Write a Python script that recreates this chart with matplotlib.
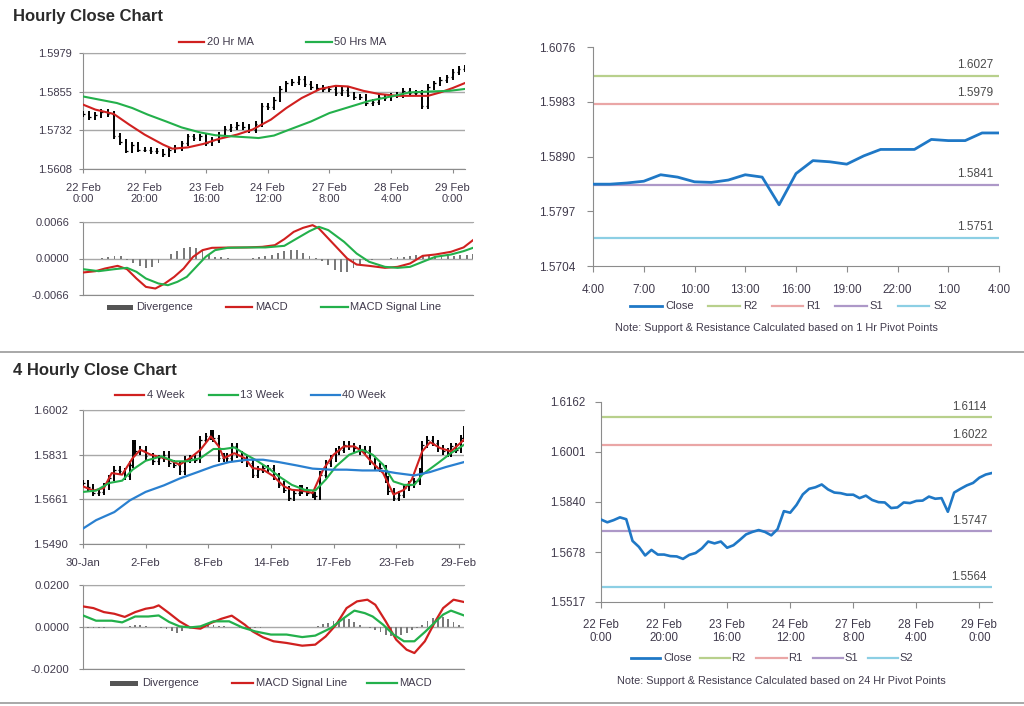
import numpy as np
import matplotlib
matplotlib.use("Agg")
import matplotlib.pyplot as plt
from matplotlib.lines import Line2D
from matplotlib.patches import Rectangle

plt.rcParams['font.family'] = ['Liberation Sans', 'DejaVu Sans']

W, H = 1024, 706

# ---------------- DATA ----------------
# Hourly closes (every 2 hours), 22 Feb 0:00 -> 29 Feb ~4:00 (trading hours)
hourly_close = [1.5783, 1.5774, 1.5781, 1.5790, 1.5784, 1.5714, 1.5695, 1.5667, 1.5685, 1.5670,
                1.5670, 1.5665, 1.5664, 1.5656, 1.5669, 1.5675, 1.5690, 1.5712, 1.5706, 1.5712,
                1.5692, 1.5700, 1.5717, 1.5735, 1.5743, 1.5749, 1.5743, 1.5732, 1.5752, 1.5810,
                1.5805, 1.5830, 1.5864, 1.5882, 1.5887, 1.5896, 1.5880, 1.5870, 1.5868, 1.5863,
                1.5863, 1.5852, 1.5860, 1.5846, 1.5839, 1.5838, 1.5820, 1.5822, 1.5838, 1.5836,
                1.5843, 1.5844, 1.5857, 1.5850, 1.5852, 1.5808, 1.5870, 1.5882, 1.5893, 1.5901,
                1.5918, 1.5928, 1.5933]
hourly_hours = list(range(0, 2 * len(hourly_close), 2))
hourly_tick_labels = ["22 Feb\n0:00", "22 Feb\n20:00", "23 Feb\n16:00", "24 Feb\n12:00",
                      "27 Feb\n8:00", "28 Feb\n4:00", "29 Feb\n0:00"]
hourly_tick_hours = [0, 20, 40, 60, 80, 100, 120]

ma20_hours = [0, 4, 10, 15, 20, 26, 29, 34, 39, 44, 50, 55, 61, 66, 71, 77, 82, 86, 91, 96, 102, 107, 112, 116, 120, 124]
ma20_vals = [1.5814, 1.5798, 1.5784, 1.5750, 1.5718, 1.5686, 1.5673, 1.5677, 1.5688, 1.5704, 1.5718,
             1.5734, 1.5766, 1.5803, 1.5835, 1.5864, 1.5874, 1.5872, 1.5858, 1.5848, 1.5842, 1.5842,
             1.5842, 1.5853, 1.5867, 1.5883]
ma50_hours = [0, 11, 16, 21, 27, 32, 38, 43, 49, 54, 57, 62, 67, 74, 80, 87, 93, 100, 106, 113, 119, 124]
ma50_vals = [1.5840, 1.5819, 1.5803, 1.5782, 1.5760, 1.5741, 1.5725, 1.5716, 1.5712, 1.5709, 1.5707,
             1.5715, 1.5734, 1.5760, 1.5787, 1.5808, 1.5826, 1.5840, 1.5853, 1.5856, 1.5858, 1.5864]

# Hourly MACD panel
macd1_hours = [0, 4, 7, 11, 14, 17, 20, 23, 26, 29, 32, 35, 38, 41, 47, 52, 57, 61, 64, 67, 70, 73,
               75, 78, 81, 84, 87, 91, 96, 100, 104, 108, 112, 117, 121, 124]
macd1_vals = [-0.00253, -0.00229, -0.00181, -0.00133, -0.00193, -0.00362, -0.00513, -0.00543, -0.00452,
              -0.00332, -0.00181, 0.00030, 0.00151, 0.00193, 0.00199, 0.00200, 0.00211, 0.00241, 0.00350,
              0.00482, 0.00555, 0.00603, 0.00543, 0.00362, 0.00181, 0.00000, -0.00109, -0.00133, -0.00169,
              -0.00151, -0.00090, 0.00048, 0.00072, 0.00121, 0.00200, 0.00332]
sig1_hours = [0, 5, 10, 14, 17, 20, 24, 27, 30, 33, 36, 39, 42, 46, 52, 58, 64, 68, 72, 75, 78, 83,
              87, 91, 96, 100, 104, 108, 112, 117, 121, 124]
sig1_vals = [-0.00193, -0.00229, -0.00193, -0.00169, -0.00241, -0.00362, -0.00452, -0.00483, -0.00422,
             -0.00332, -0.00151, 0.00030, 0.00151, 0.00193, 0.00200, 0.00200, 0.00229, 0.00362, 0.00494,
             0.00573, 0.00513, 0.00302, 0.00090, -0.00060, -0.00151, -0.00169, -0.00151, -0.00060,
             0.00030, 0.00072, 0.00133, 0.00193]
div1_vals = [-0.0001, -0.0001, -0.0001, 0.0001, 0.0003, 0.0005, 0.0004, -0.0002, -0.0008, -0.0014,
             -0.0018, -0.0016, -0.0008, 0.0000, 0.0008, 0.0014, 0.0019, 0.0021, 0.0019, 0.0013,
             0.0007, 0.0003, 0.0002, 0.0001, 0.0000, -0.0001, 0.0000, 0.0001, 0.0002, 0.0004,
             0.0006, 0.0010, 0.0014, 0.0016, 0.0015, 0.0010, 0.0005, 0.0001, -0.0004, -0.0012,
             -0.0020, -0.0025, -0.0024, -0.0018, -0.0010, -0.0005, -0.0002, -0.0001, 0.0000, 0.0001,
             0.0002, 0.0003, 0.0005, 0.0007, 0.0006, 0.0005, 0.0004, 0.0004, 0.0004, 0.0005,
             0.0006, 0.0007, 0.0009]

# 1 Hr pivot chart (hourly, 4:00 -> 4:00)
pivot1_close = [1.5843, 1.5843, 1.5845, 1.5848, 1.5859, 1.5855, 1.5847, 1.5846, 1.5850, 1.5859,
                1.5855, 1.5808, 1.5861, 1.5883, 1.5881, 1.5877, 1.5891, 1.5902, 1.5902, 1.5902,
                1.5919, 1.5917, 1.5917, 1.5930, 1.5930]
pivot1_labels = ["4:00", "7:00", "10:00", "13:00", "16:00", "19:00", "22:00", "1:00", "4:00"]
pivot1_levels = {"R2": 1.6027, "R1": 1.5979, "S1": 1.5841, "S2": 1.5751}
pivot1_yticks = [1.5704, 1.5797, 1.5890, 1.5983, 1.6076]

# 24 Hr pivot chart
pivot24_levels = {"R2": 1.6114, "R1": 1.6022, "S1": 1.5747, "S2": 1.5564}
pivot24_yticks = [1.5517, 1.5678, 1.5840, 1.6001, 1.6162]

# 4 hourly chart
fourh_bar = [0, 2, 4, 6, 8, 10, 12, 14, 16, 18, 19, 20, 22, 24, 27, 29, 31, 33, 35, 37, 39, 41, 43, 45, 47,
             49, 50, 52, 54, 55, 57, 59, 61, 63, 65, 67, 69, 71, 73, 75, 77, 79, 81, 83, 84, 86, 88,
             89, 91, 93, 95, 97, 98, 100, 102, 104, 106, 108, 110, 112, 114, 116, 117, 119, 121, 123,
             125, 127, 129, 130, 132, 134, 136, 138, 140, 141, 143, 145, 146]
fourh_close = [1.5722, 1.5706, 1.5685, 1.5689, 1.5710, 1.5742, 1.5774, 1.5768, 1.5749, 1.5793, 1.5876,
               1.5844, 1.5850, 1.5825, 1.5806, 1.5818, 1.5831, 1.5799, 1.5793, 1.5768, 1.5812, 1.5818,
               1.5812, 1.5888, 1.5901, 1.5914, 1.5894, 1.5818, 1.5825, 1.5818, 1.5863, 1.5831, 1.5812,
               1.5799, 1.5755, 1.5774, 1.5780, 1.5780, 1.5749, 1.5716, 1.5697, 1.5667, 1.5685, 1.5704,
               1.5694, 1.5685, 1.5677, 1.5673, 1.5755, 1.5799, 1.5818, 1.5844, 1.5850, 1.5869, 1.5863,
               1.5856, 1.5844, 1.5850, 1.5806, 1.5787, 1.5780, 1.5736, 1.5691, 1.5667, 1.5679, 1.5704,
               1.5716, 1.5729, 1.5768, 1.5869, 1.5888, 1.5876, 1.5856, 1.5844, 1.5837, 1.5863, 1.5850,
               1.5894, 1.5926]
fourh_tick_labels = ["30-Jan", "2-Feb", "8-Feb", "14-Feb", "17-Feb", "23-Feb", "29-Feb"]
fourh_tick_bars = [0, 24, 48, 72, 96, 120, 144]

wk4_bars = [0, 4, 8, 11, 15, 19, 22, 26, 30, 33, 37, 41, 45, 49, 52, 54, 58, 62, 65, 69, 73, 77, 80,
            84, 88, 92, 96, 100, 104, 107, 111, 115, 119, 123, 126, 130, 133, 137, 141, 146]
wk4_vals = [1.5710, 1.5694, 1.5704, 1.5761, 1.5755, 1.5818, 1.5850, 1.5831, 1.5821, 1.5812, 1.5793,
            1.5818, 1.5850, 1.5901, 1.5863, 1.5818, 1.5837, 1.5818, 1.5780, 1.5774, 1.5749, 1.5710,
            1.5697, 1.5694, 1.5685, 1.5774, 1.5831, 1.5863, 1.5863, 1.5844, 1.5799, 1.5761, 1.5679,
            1.5697, 1.5736, 1.5844, 1.5879, 1.5856, 1.5844, 1.5888]
wk13_bars = [0, 5, 10, 15, 19, 24, 30, 35, 40, 45, 50, 54, 58, 62, 66, 71, 75, 80, 85, 89, 93, 97,
             102, 107, 111, 115, 119, 123, 127, 130, 136, 141, 146]
wk13_vals = [1.5689, 1.5694, 1.5723, 1.5732, 1.5774, 1.5808, 1.5825, 1.5806, 1.5806, 1.5818, 1.5853,
             1.5853, 1.5859, 1.5834, 1.5812, 1.5780, 1.5749, 1.5716, 1.5697, 1.5694, 1.5736, 1.5787,
             1.5831, 1.5850, 1.5831, 1.5793, 1.5729, 1.5716, 1.5716, 1.5755, 1.5799, 1.5837, 1.5869]
wk40_bars = [0, 5, 12, 18, 24, 31, 37, 44, 50, 56, 63, 69, 75, 82, 88, 95, 101, 107, 114, 120, 127,
             133, 139, 146]
wk40_vals = [1.5549, 1.5581, 1.5612, 1.5657, 1.5689, 1.5714, 1.5740, 1.5765, 1.5787, 1.5803, 1.5812,
             1.5812, 1.5803, 1.5790, 1.5778, 1.5774, 1.5774, 1.5771, 1.5771, 1.5761, 1.5752, 1.5765,
             1.5784, 1.5803]

sig4_bars = [0, 4, 8, 12, 16, 20, 24, 27, 29, 33, 37, 41, 45, 49, 53, 57, 62, 65, 69, 73, 78, 84, 89,
             93, 97, 101, 105, 109, 112, 116, 120, 124, 127, 131, 135, 138, 142, 146]
sig4_vals = [0.0098, 0.0090, 0.0071, 0.0063, 0.0048, 0.0071, 0.0087, 0.0093, 0.0103, 0.0066, 0.0027,
             -0.0002, -0.0008, 0.0019, 0.0039, 0.0054, 0.0011, -0.0021, -0.0049, -0.0068, -0.0076,
             -0.0089, -0.0084, -0.0045, 0.0011, 0.0090, 0.0122, 0.0130, 0.0106, 0.0027, -0.0060,
             -0.0108, -0.0124, -0.0068, 0.0027, 0.0090, 0.0130, 0.0119]
macd4_bars = [0, 5, 11, 15, 20, 25, 29, 33, 37, 41, 45, 50, 56, 61, 66, 72, 78, 84, 89, 95, 100, 104,
              108, 111, 115, 119, 123, 127, 131, 135, 138, 141, 146]
macd4_vals = [0.0055, 0.0030, 0.0030, 0.0022, 0.0050, 0.0050, 0.0055, 0.0024, 0.0003, -0.0002, 0.0003,
              0.0027, 0.0027, -0.0002, -0.0021, -0.0036, -0.0036, -0.0048, -0.0041, -0.0005, 0.0043,
              0.0078, 0.0066, 0.0050, 0.0011, -0.0036, -0.0068, -0.0068, -0.0024, 0.0024, 0.0059,
              0.0078, 0.0055]
div4_vals = [-0.0002, -0.0003, -0.0003, -0.0003, -0.0003, -0.0002, -0.0002, -0.0002, 0.0002, 0.0006,
             0.0010, 0.0009, 0.0004, 0.0002, -0.0002, -0.0004, -0.0010, -0.0020, -0.0027, -0.0018,
             -0.0006, 0.0000, 0.0003, 0.0006, 0.0009, 0.0008, 0.0005, 0.0004, 0.0002, 0.0000,
             -0.0004, -0.0008, -0.0009, -0.0006, -0.0003, -0.0002, -0.0002, -0.0001, -0.0002, -0.0001,
             -0.0002, -0.0002, -0.0001, -0.0001, 0.0000, 0.0004, 0.0012, 0.0020, 0.0030, 0.0038,
             0.0042, 0.0036, 0.0024, 0.0010, 0.0002, -0.0006, -0.0016, -0.0026, -0.0036, -0.0045,
             -0.0048, -0.0040, -0.0028, -0.0015, -0.0006, 0.0010, 0.0030, 0.0045, 0.0052, 0.0048,
             0.0038, 0.0024, 0.0010, 0.0002]

# ---------------- STYLE ----------------
TXT = '#403a4c'
SPINE = '#8c8c8c'
GRID = '#a8a8a8'
RED = '#d0201f'
GREEN = '#23b04b'
BLUE40 = '#2a80d0'
CLOSE = '#1f78c6'
LVL_COL = {"R2": '#b8d08c', "R1": '#eaa6a6', "S1": '#ad98c8', "S2": '#8ccfe4'}

fig = plt.figure(figsize=(W / 100, H / 100), dpi=100)


def add_ax(l, t, r, b):
    return fig.add_axes([l / W, 1 - b / H, (r - l) / W, (b - t) / H])


def base_style(ax, size, ypad, xpad=None, grid=True):
    ax.set_facecolor('none')
    ax.spines['right'].set_visible(False)
    ax.spines['top'].set_visible(grid)
    ax.spines['top'].set_color(GRID)
    ax.spines['left'].set_color(SPINE)
    ax.spines['bottom'].set_color(SPINE)
    ax.tick_params(axis='y', direction='out', length=3, width=0.8, color=SPINE,
                   labelsize=size, labelcolor=TXT, pad=ypad)
    if xpad is not None:
        ax.tick_params(axis='x', direction='out', length=3, width=0.8, color=SPINE,
                       labelsize=size, labelcolor=TXT, pad=xpad)
    else:
        ax.tick_params(axis='x', length=0, labelbottom=False)
    if grid:
        ax.yaxis.grid(True, color=GRID, lw=1.0)
        ax.set_axisbelow(True)


def leg_line(x1, x2, y, color, lw=1.6):
    fig.add_artist(Line2D([x1 / W, x2 / W], [1 - y / H, 1 - y / H], color=color, lw=lw,
                          transform=fig.transFigure))


def leg_box(x1, x2, y, h, color):
    fig.add_artist(Rectangle((x1 / W, 1 - (y + h / 2) / H), (x2 - x1) / W, h / H,
                             transform=fig.transFigure, color=color, lw=0))


def leg_text(x, y, s, size=8):
    fig.text(x / W, 1 - y / H, s, ha='left', va='center', fontsize=size, color=TXT)


def sep_line(y):
    fig.add_artist(Line2D([0, 1], [1 - y / H, 1 - y / H], color='#9a9a9a', lw=1.2,
                          transform=fig.transFigure))


def ohlc(ax, xs, closes, wick, half):
    xs = np.asarray(xs, dtype=float)
    c = np.asarray(closes)
    o = np.concatenate([[c[0]], c[:-1]])
    lo = np.minimum(o, c) - wick
    hi = np.maximum(o, c) + wick
    ax.vlines(xs, lo, hi, color='black', lw=1.4, zorder=3)
    ax.hlines(o, xs - half, xs, color='black', lw=0.9, zorder=3)
    ax.hlines(c, xs, xs + half, color='black', lw=0.9, zorder=3)


# ---------------- Titles & separators ----------------
fig.text(13 / W, 1 - 16 / H, "Hourly Close Chart", fontsize=12, fontweight='bold', color='#2b2b2b',
         ha='left', va='center')
fig.text(13 / W, 1 - 370 / H, "4 Hourly Close Chart", fontsize=12, fontweight='bold', color='#2b2b2b',
         ha='left', va='center')
sep_line(352)
sep_line(703)

# ---------------- Top-left: hourly price ----------------
ax1 = add_ax(83, 53, 465, 169)
base_style(ax1, 8, 5, xpad=7)
ohlc(ax1, hourly_hours, hourly_close, 0.0009, 0.5)
ax1.plot(ma20_hours, ma20_vals, color=RED, lw=1.5, zorder=4)
ax1.plot(ma50_hours, ma50_vals, color=GREEN, lw=1.5, zorder=4)
ax1.set_xlim(0, 124)
ax1.set_ylim(1.5608, 1.5979)
ax1.set_yticks([1.5608, 1.5732, 1.5855, 1.5979])
ax1.set_yticklabels(["1.5608", "1.5732", "1.5855", "1.5979"])
ax1.set_xticks(hourly_tick_hours)
ax1.set_xticklabels(hourly_tick_labels, linespacing=1.15)
leg_line(179, 204, 42, RED)
leg_text(207, 42, "20 Hr MA")
leg_line(306, 332, 42, GREEN)
leg_text(334, 42, "50 Hrs MA")

# ---------------- Top-left: hourly MACD ----------------
ax2 = add_ax(83, 222, 473, 295)
base_style(ax2, 8, 7)
ax2.bar(hourly_hours, div1_vals, width=0.6, color='#7a7a7a', zorder=2)
ax2.plot(macd1_hours, macd1_vals, color=RED, lw=1.5, zorder=4)
ax2.plot(sig1_hours, sig1_vals, color=GREEN, lw=1.5, zorder=4)
ax2.set_xlim(0, 124)
ax2.set_ylim(-0.0066, 0.0066)
ax2.set_yticks([-0.0066, 0.0, 0.0066])
ax2.set_yticklabels(["-0.0066", "0.0000", "0.0066"])
leg_box(107, 133, 307, 5, '#555555')
leg_text(136, 307, "Divergence")
leg_line(226, 252, 307, RED)
leg_text(255, 307, "MACD")
leg_line(321, 348, 307, GREEN)
leg_text(350, 307, "MACD Signal Line")

# ---------------- Top-right: 1 Hr pivot ----------------
ax3 = add_ax(593, 47, 999, 266)
base_style(ax3, 8.5, 9, xpad=9, grid=False)
ax3.tick_params(axis='both', length=4)
for k in ["R2", "R1", "S1", "S2"]:
    v = pivot1_levels[k]
    ax3.axhline(v, color=LVL_COL[k], lw=1.6, zorder=2)
    ax3.annotate(f"{v:.4f}", xy=(1, v), xycoords=('axes fraction', 'data'), xytext=(-6, 5),
                 textcoords='offset pixels', ha='right', va='bottom', fontsize=8.5, color='#4a4a4a')
ax3.plot(range(len(pivot1_close)), pivot1_close, color=CLOSE, lw=2.0, zorder=4)
ax3.set_xlim(0, 24)
ax3.set_ylim(1.5704, 1.6076)
ax3.set_yticks(pivot1_yticks)
ax3.set_yticklabels([f"{v:.4f}" for v in pivot1_yticks])
ax3.set_xticks(range(0, 25, 3))
ax3.set_xticklabels(pivot1_labels)
leg_line(630, 662, 306, CLOSE, lw=2.0)
leg_text(665, 306, "Close")
leg_line(708, 740, 306, LVL_COL["R2"])
leg_text(743, 306, "R2")
leg_line(772, 803, 306, LVL_COL["R1"])
leg_text(806, 306, "R1")
leg_line(835, 867, 306, LVL_COL["S1"])
leg_text(869, 306, "S1")
leg_line(898, 929, 306, LVL_COL["S2"])
leg_text(933, 306, "S2")
fig.text(776 / W, 1 - 328 / H, "Note: Support & Resistance Calculated based on 1 Hr Pivot Points",
         ha='center', va='center', fontsize=7.8, color=TXT)

# ---------------- Bottom-left: 4 hourly price ----------------
ax4 = add_ax(83, 410, 464, 544)
base_style(ax4, 8.2, 8, xpad=7)
ohlc(ax4, fourh_bar, fourh_close, 0.0013, 0.6)
ax4.plot(wk4_bars, wk4_vals, color=RED, lw=1.5, zorder=4)
ax4.plot(wk13_bars, wk13_vals, color=GREEN, lw=1.5, zorder=4)
ax4.plot(wk40_bars, wk40_vals, color=BLUE40, lw=1.6, zorder=4)
ax4.set_xlim(0, 146)
ax4.set_ylim(1.5490, 1.6002)
ax4.set_yticks([1.5490, 1.5661, 1.5831, 1.6002])
ax4.set_yticklabels(["1.5490", "1.5661", "1.5831", "1.6002"])
ax4.set_xticks(fourh_tick_bars)
ax4.set_xticklabels(fourh_tick_labels)
leg_line(115, 144, 395, RED)
leg_text(147, 395, "4 Week")
leg_line(209, 238, 395, GREEN)
leg_text(240, 395, "13 Week")
leg_line(311, 340, 395, BLUE40)
leg_text(342, 395, "40 Week")

# ---------------- Bottom-left: 4 hourly MACD ----------------
ax5 = add_ax(83, 585, 464, 669)
base_style(ax5, 8.2, 7)
ax5.bar(range(0, 2 * len(div4_vals), 2), div4_vals, width=0.7, color='#7a7a7a', zorder=2)
ax5.plot(sig4_bars, sig4_vals, color=RED, lw=1.6, zorder=4)
ax5.plot(macd4_bars, macd4_vals, color=GREEN, lw=1.6, zorder=4)
ax5.set_xlim(0, 146)
ax5.set_ylim(-0.02, 0.02)
ax5.set_yticks([-0.02, 0.0, 0.02])
ax5.set_yticklabels(["-0.0200", "0.0000", "0.0200"])
leg_box(110, 138, 683, 5, '#555555')
leg_text(142, 683, "Divergence")
leg_line(232, 253, 683, RED)
leg_text(256, 683, "MACD Signal Line")
leg_line(367, 397, 683, GREEN)
leg_text(399, 683, "MACD")

# ---------------- Bottom-right: 24 Hr pivot ----------------
ax6 = add_ax(601, 402, 992, 602)
base_style(ax6, 8.3, 7, xpad=8, grid=False)
ax6.tick_params(axis='both', length=4)
for k in ["R2", "R1", "S1", "S2"]:
    v = pivot24_levels[k]
    ax6.axhline(v, color=LVL_COL[k], lw=1.6, zorder=2)
    ax6.annotate(f"{v:.4f}", xy=(1, v), xycoords=('axes fraction', 'data'), xytext=(-5, 4),
                 textcoords='offset pixels', ha='right', va='bottom', fontsize=8.3, color='#4a4a4a')
ax6.plot(hourly_hours, hourly_close, color=CLOSE, lw=1.9, zorder=4)
ax6.set_xlim(0, 124)
ax6.set_ylim(1.5517, 1.6162)
ax6.set_yticks(pivot24_yticks)
ax6.set_yticklabels([f"{v:.4f}" for v in pivot24_yticks])
ax6.set_xticks(hourly_tick_hours)
ax6.set_xticklabels(hourly_tick_labels, linespacing=1.2)
leg_line(631, 660, 658, CLOSE, lw=2.0)
leg_text(663, 658, "Close")
leg_line(700, 730, 658, LVL_COL["R2"])
leg_text(731, 658, "R2")
leg_line(756, 787, 658, LVL_COL["R1"])
leg_text(788, 658, "R1")
leg_line(813, 843, 658, LVL_COL["S1"])
leg_text(844, 658, "S1")
leg_line(868, 898, 658, LVL_COL["S2"])
leg_text(899, 658, "S2")
fig.text(781 / W, 1 - 681 / H, "Note: Support & Resistance Calculated based on 24 Hr Pivot Points",
         ha='center', va='center', fontsize=7.8, color=TXT)

fig.savefig("out.png", dpi=100)
